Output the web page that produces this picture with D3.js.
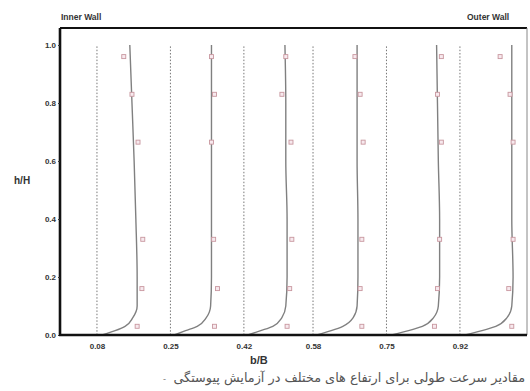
<!DOCTYPE html>
<html>
<head>
<meta charset="utf-8">
<script src="https://cdn.jsdelivr.net/npm/d3@7"></script>
<style>
  body { margin: 0; background: #fff; }
  svg { display: block; font-family: "Liberation Sans", Arial, sans-serif; }
</style>
</head>
<body>
<div id="chart"></div>
<script>
// stations across the channel (b/B), also the x tick labels
const stations = [0.08, 0.25, 0.42, 0.58, 0.75, 0.92];
const yTicks = [0, 0.2, 0.4, 0.6, 0.8, 1.0];

// computed profiles: h/H levels and offset from the station line (b/B units)
const profileH = [0, 0.015, 0.03, 0.06, 0.1, 0.2, 0.4, 0.6, 0.8, 1.0];
const profile1 = [0.012, 0.042, 0.065, 0.083, 0.093, 0.093, 0.090, 0.086, 0.081, 0.076];
const profile2 = [0.009, 0.035, 0.062, 0.083, 0.093, 0.095, 0.095, 0.095, 0.095, 0.095];
const profile3 = [0.009, 0.039, 0.067, 0.088, 0.097, 0.100, 0.100, 0.097, 0.097, 0.095];
const profile4 = [0.009, 0.042, 0.069, 0.093, 0.102, 0.104, 0.104, 0.102, 0.102, 0.102];
const profile5 = [0.012, 0.051, 0.083, 0.109, 0.120, 0.123, 0.123, 0.120, 0.118, 0.116];
const profile6 = [0.012, 0.051, 0.083, 0.109, 0.120, 0.123, 0.120, 0.120, 0.120, 0.120];
const profiles = [profile1, profile2, profile3, profile4, profile5, profile6];

// measured points
const measH = [0.03, 0.16, 0.33, 0.665, 0.83, 0.96];
const meas1 = [0.093, 0.104, 0.106, 0.095, 0.081, 0.062];
const meas2 = [0.102, 0.109, 0.100, 0.095, 0.102, 0.095];
const meas3 = [0.100, 0.106, 0.111, 0.109, 0.088, 0.097];
const meas4 = [0.113, 0.109, 0.113, 0.116, 0.109, 0.097];
const meas5 = [0.111, 0.118, 0.123, 0.127, 0.118, 0.127];
const meas6 = [0.120, 0.113, 0.123, 0.123, 0.116, 0.093];
const measured = [meas1, meas2, meas3, meas4, meas5, meas6];

const caption = 'مقادیر سرعت طولی برای ارتفاع های مختلف در آزمایش پیوستگی';

const width = 530, height = 391;
const svg = d3.select('#chart').append('svg')
    .attr('width', width)
    .attr('height', height);

const x = d3.scaleLinear().domain([0, 1]).range([62.4, 494.5]);
const y = d3.scaleLinear().domain([0, 1]).range([335, 45]);
const frameL = 60, frameR = 527, frameT = 28, frameB = 335;

// station dotted lines
svg.append('g')
    .selectAll('line')
    .data(stations)
    .join('line')
    .attr('x1', d => x(d)).attr('x2', d => x(d))
    .attr('y1', y(0)).attr('y2', y(1))
    .attr('stroke', '#777')
    .attr('stroke-width', 1)
    .attr('stroke-dasharray', '1.5,1.8');

// computed velocity profiles
const line = d3.line()
    .x(d => x(d[0]))
    .y(d => y(d[1]))
    .curve(d3.curveMonotoneY);

svg.append('g')
    .selectAll('path')
    .data(profiles.map((p, i) => p.map((v, j) => [stations[i] + v, profileH[j]])))
    .join('path')
    .attr('d', line)
    .attr('fill', 'none')
    .attr('stroke', '#808080')
    .attr('stroke-width', 1.4);

// measured points
const pts = measured.flatMap((m, i) => m.map((v, j) => ({ x: stations[i] + v, h: measH[j] })));
svg.append('g')
    .selectAll('rect')
    .data(pts)
    .join('rect')
    .attr('x', d => x(d.x) - 2)
    .attr('y', d => y(d.h) - 2)
    .attr('width', 4).attr('height', 4)
    .attr('fill', '#f7e9ee')
    .attr('stroke', '#c8979f')
    .attr('stroke-width', 0.9);

// frame
svg.append('line').attr('x1', frameL).attr('x2', frameR).attr('y1', frameT).attr('y2', frameT)
    .attr('stroke', '#111').attr('stroke-width', 2);
svg.append('line').attr('x1', frameR).attr('x2', frameR).attr('y1', frameT).attr('y2', frameB)
    .attr('stroke', '#888').attr('stroke-width', 1);

// axes
const yAxis = svg.append('g')
    .attr('transform', `translate(${frameL},0)`)
    .call(d3.axisLeft(y).tickValues(yTicks).tickFormat(d3.format('.1f')).tickSize(2).tickPadding(2));
yAxis.select('.domain').attr('d', `M0,${frameT}V${frameB}`).attr('stroke', '#111').attr('stroke-width', 2.6);

const xAxis = svg.append('g')
    .attr('transform', `translate(0,${frameB})`)
    .call(d3.axisBottom(x).tickValues(stations).tickFormat(d3.format('.2f')).tickSize(0).tickPadding(8));
xAxis.select('.domain').attr('d', `M${frameL - 1},0H${frameR}`).attr('stroke', '#111').attr('stroke-width', 2.6);

svg.selectAll('.tick text')
    .attr('font-family', '"Liberation Sans", Arial, sans-serif')
    .attr('font-size', 8)
    .attr('font-weight', 'bold')
    .attr('fill', '#333');
svg.selectAll('.tick line').attr('stroke', '#333');

// labels
svg.append('text').attr('x', 14).attr('y', 184)
    .attr('font-size', 10).attr('font-weight', 'bold').attr('fill', '#333')
    .text('h/H');
svg.append('text').attr('x', 250).attr('y', 364)
    .attr('font-size', 11).attr('font-weight', 'bold').attr('fill', '#333')
    .text('b/B');
svg.append('text').attr('x', 61).attr('y', 20)
    .attr('font-size', 8.5).attr('font-weight', 'bold').attr('fill', '#333')
    .text('Inner Wall');
svg.append('text').attr('x', 467).attr('y', 20)
    .attr('font-size', 8.5).attr('font-weight', 'bold').attr('fill', '#333')
    .text('Outer Wall');

// caption
const cap = svg.append('text')
    .attr('x', 525).attr('y', 382)
    .attr('direction', 'rtl')
    .attr('text-anchor', 'start')
    .attr('font-family', '"DejaVu Sans", sans-serif')
    .attr('font-size', 9)
    .attr('fill', '#555')
    .text(caption);
const w = cap.node().getComputedTextLength();
cap.attr('font-size', 9 * 352 / w);
svg.append('text').attr('x', 163).attr('y', 382)
    .attr('font-size', 9).attr('fill', '#777')
    .text('-');
</script>
</body>
</html>
